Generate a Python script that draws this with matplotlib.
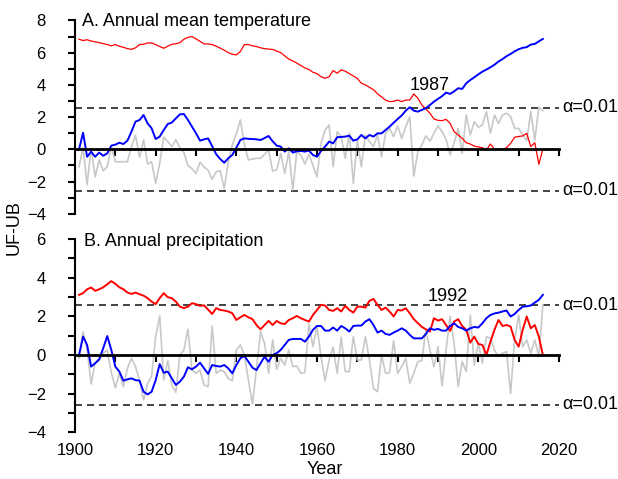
import matplotlib
matplotlib.use('Agg')
import matplotlib.pyplot as plt
import numpy as np

plt.rcParams['font.family'] = ['Liberation Sans', 'DejaVu Sans']

years = np.arange(1901, 2017)

# ---- Panel A: annual mean temperature ----
temp_uf = [
    0, 1.03, -0.46, -0.15, -0.46, -0.2, -0.4, -0.25, 0.23, 0.29,
    0.41, 0.33, 0.54, 1.1, 1.72, 1.82, 2.13, 1.61, 1.3, 0.64,
    0.79, 1.2, 1.57, 1.66, 1.92, 2.17, 2.19, 1.82, 1.41, 1.0,
    0.54, 0.62, 0.68, 0.2, -0.3, -0.6, -0.83, -0.55, -0.35, 0.1,
    0.58, 0.68, 0.65, 0.64, 0.62, 0.58, 0.7, 0.83, 0.5, 0.23,
    0.17, -0.14, 0.06, -0.2, -0.12, -0.1, -0.14, -0.08, -0.35, -0.46,
    -0.1, 0.17, 0.48, 0.37, 0.75, 0.77, 0.79, 0.85, 0.54, 0.62,
    0.89, 0.68, 0.89, 0.79, 0.99, 0.99, 1.2, 1.41, 1.65, 1.88,
    2.1, 2.4, 2.61, 2.4, 2.34, 2.45, 2.55, 2.75, 2.96, 3.13,
    3.3, 3.52, 3.44, 3.6, 3.79, 3.75, 4.1, 4.3, 4.47, 4.65,
    4.82, 4.95, 5.09, 5.25, 5.45, 5.6, 5.78, 5.92, 6.08, 6.21,
    6.3, 6.34, 6.5, 6.54, 6.7, 6.85]
temp_ub = [
    6.83, 6.75, 6.8, 6.72, 6.67, 6.62, 6.56, 6.5, 6.42, 6.5,
    6.4, 6.33, 6.25, 6.2, 6.3, 6.5, 6.52, 6.6, 6.6, 6.5,
    6.38, 6.27, 6.4, 6.52, 6.55, 6.62, 6.83, 6.95, 7.0, 6.85,
    6.7, 6.54, 6.54, 6.5, 6.4, 6.28, 6.15, 6.0, 5.9, 5.86,
    6.07, 6.5, 6.5, 6.42, 6.38, 6.3, 6.25, 6.22, 6.2, 6.1,
    6.0, 5.8, 5.6, 5.48, 5.35, 5.2, 5.05, 4.95, 4.78, 4.7,
    4.5, 4.41, 4.51, 4.89, 4.72, 4.93, 4.85, 4.7, 4.55, 4.4,
    4.1, 4.0, 3.85, 3.7, 3.45, 3.25, 3.05, 2.96, 2.98, 3.06,
    2.96, 3.06, 3.06, 3.44, 3.17, 2.75, 2.5, 2.24, 1.88, 1.8,
    1.78, 1.86, 1.61, 1.1, 0.89, 0.68, 0.41, 0.33, 0.2, 0.15,
    0.1, -0.04, 0.33, 0.0, 0.0, 0.0, 0.1, 0.37, 0.75, 0.8,
    0.83, 0.99, 0.17, 0.41, -0.93, 0.0]
temp_series = [
    -1.08, 0.1, -2.2, 0.06, -1.7, -0.66, -1.33, -1.08, 0.17, -0.77,
    -0.77, -0.77, -0.77, 0.17, 0.89, -0.5, 0.58, -0.91, -0.77, -2.11,
    -0.87, 0.75, 0.48, 0.17, 0.6, 0.1, -0.2, -1.0, -1.2, -1.5,
    -0.8, -1.1, -1.3, -1.86, -1.39, -1.33, -2.45, -0.8, 0.27, 0.95,
    1.82, 0.27, -0.66, -0.6, -0.56, -0.56, -0.3, -0.04, -1.35, -1.28,
    -0.25, -1.5, -0.14, -2.53, -0.14, -0.35, -0.91, -0.3, -1.0, -1.7,
    0.37, 1.2, 1.51, -1.08, 1.1, 0.79, -0.56, 0.99, -2.11, 0.58,
    -1.08, 0.89, 0.48, 0.17, 0.89, -0.46, 0.99, 1.3, 0.79, 1.45,
    0.68, 1.4, 2.03, -1.66, -0.15, 0.27, 0.83, 0.5, 1.0, 1.45,
    1.1, 0.62, -0.35, 0.41, 1.3, -0.25, 2.13, 0.89, 1.72, 1.37,
    1.51, 2.34, 0.99, 2.13, 1.61, 2.13, 2.24, 2.03, 1.3, 1.3,
    0.89, 0.54, 2.34, 0.58, 2.61, 2.4]

# ---- Panel B: annual precipitation ----
prec_uf = [
    0, 0.95, 0.52, -0.6, -0.43, -0.22, 0.35, 0.98, 0.26, -0.6,
    -0.86, -1.33, -1.26, -1.21, -1.3, -1.33, -1.9, -2.04, -1.9, -1.3,
    -0.47, -0.92, -0.86, -1.21, -1.55, -1.38, -1.12, -0.64, -0.74, -0.6,
    -0.4, -0.69, -0.98, -0.52, -0.57, -0.6, -0.52, -0.69, -0.95, -0.52,
    -0.17, -0.05, -0.35, -0.66, -0.78, -0.43, -0.09, -0.35, 0.0, 0.09,
    0.26, 0.52, 0.78, 0.83, 0.83, 0.83, 0.69, 0.95, 1.3, 1.5,
    1.5, 1.26, 1.26, 1.42, 1.26, 1.5, 1.38, 1.21, 1.5, 1.52,
    1.52, 1.73, 1.85, 1.55, 1.16, 1.26, 1.09, 1.04, 1.16, 1.26,
    1.38, 1.26, 1.04, 0.86, 0.86, 0.86, 1.09, 1.38, 1.3, 1.35,
    1.26, 1.26, 1.5, 1.64, 1.45, 1.38, 1.26, 1.38, 1.45, 1.42,
    1.64, 1.9, 2.07, 2.15, 2.19, 2.25, 2.3, 1.99, 2.12, 2.33,
    2.5, 2.52, 2.56, 2.71, 2.85, 3.11]
prec_ub = [
    3.11, 3.2, 3.4, 3.49, 3.32, 3.4, 3.5, 3.66, 3.82, 3.68,
    3.5, 3.4, 3.23, 3.16, 3.23, 3.14, 3.07, 2.94, 2.76, 2.63,
    2.94, 3.2, 2.99, 2.94, 2.76, 2.5, 2.42, 2.5, 2.68, 2.63,
    2.54, 2.57, 2.35, 2.12, 2.42, 2.33, 2.3, 2.25, 2.16, 1.81,
    1.95, 2.07, 1.95, 1.85, 1.55, 1.33, 1.55, 1.76, 1.55, 1.76,
    1.64, 1.6, 1.81, 1.9, 2.02, 1.9, 1.81, 1.73, 2.07, 2.33,
    2.59, 2.56, 2.33, 2.28, 2.42, 2.25, 2.54, 2.33, 2.19, 2.5,
    2.5, 2.45, 2.8, 2.9, 2.59, 2.33, 2.45, 2.25, 1.99, 2.33,
    2.3, 2.42, 2.16, 1.85, 1.65, 1.45, 1.33, 1.21, 1.9, 1.78,
    1.85, 1.55, 1.25, 1.73, 1.85, 1.5, 1.3, 0.64, 0.95, 0.57,
    0.52, 0.0, 0.69, 1.3, 1.81, 1.5, 1.55, 1.47, 0.78, 0.43,
    1.3, 1.99, 1.38, 1.55, 0.95, 0.0]
prec_series = [
    -0.17, 1.2, 0.3, -1.5, -0.4, -0.3, 0.1, 0.26, -0.9, -1.7,
    -0.95, -1.64, -0.69, -0.17, -0.6, -1.3, -2.33, -1.47, -1.09, 0.95,
    2.02, -1.3, -0.29, -1.55, -1.93, 0.0, 0.26, 1.33, -0.78, -0.95,
    -0.78, -1.55, -1.64, 1.5, -0.95, -0.78, -0.86, -1.21, -1.33, 0.26,
    0.52, 0.0, -1.3, -2.54, -0.69, 1.21, 0.6, -0.95, 0.78, -0.74,
    -0.17, -0.52, 0.26, -0.6, -0.57, -0.95, -0.91, 1.6, 0.43, 1.47,
    -0.09, -1.33, -0.26, 0.4, -0.95, 0.92, -0.86, -0.86, 0.95, -0.26,
    -0.26, 0.95, -0.26, -1.73, -1.9, 0.0, -0.95, -0.91, 0.74, -0.95,
    -0.6, -0.17, -1.47, -0.95, -0.35, -0.29, 1.3, 0.26, -0.6, 0.43,
    -1.6, 0.26, 1.99, 0.6, -1.64, -0.35, -0.86, 2.07, -0.52, 0.6,
    -0.43, 0.95, 0.86, 0.26, -0.09, 0.09, 0.17, -2.0, 0.78, 2.07,
    0.43, 0.78, 0.09, 0.78, -0.09, 2.59]

alpha_level = 2.58
titles = ['A. Annual mean temperature', 'B. Annual precipitation']
cross_labels = ['1987', '1992']

fig = plt.figure(figsize=(6.18, 4.79), dpi=100)
axA = fig.add_axes([75/618, 1-213.8/479, 484/618, 193.4/479])
axB = fig.add_axes([75/618, 1-432.3/479, 484/618, 193.3/479])

panels = [
    (axA, temp_series, temp_uf, temp_ub, (-4, 8), 0.9, (1901.8, 7.66), (1987.8, 3.7)),
    (axB, prec_series, prec_uf, prec_ub, (-4, 6), 1.4, (1902.2, 5.65), (1992.5, 2.8)),
]

for i, (ax, ser, uf, ub, ylim, ub_lw, tpos, cpos) in enumerate(panels):
    ax.plot(years, ser, color='#c8c8c8', lw=1.2, zorder=2)
    ax.plot(years, ub, color='#ff0000', lw=ub_lw, zorder=3)
    ax.plot(years, uf, color='#0000ff', lw=1.4, zorder=4)
    for lev in (alpha_level, -alpha_level):
        ax.axhline(lev, color='#222222', lw=1.2, ls=(0, (4.2, 3.0)), zorder=1)
        ax.text(2020.7, lev, 'α=0.01', ha='left', va='center', fontsize=13,
                clip_on=False)
    ax.set_xlim(1900, 2020)
    ax.set_ylim(*ylim)
    ax.spines['top'].set_visible(False)
    ax.spines['right'].set_visible(False)
    ax.spines['bottom'].set_position(('data', 0))
    ax.spines['bottom'].set_linewidth(2)
    ax.spines['bottom'].set_zorder(5)
    ax.spines['left'].set_linewidth(1.5)
    ax.set_xticks(np.arange(1910, 2021, 10))
    ax.tick_params(axis='x', direction='out', length=5, width=1.5,
                   labelbottom=False)
    ax.set_yticks(np.arange(ylim[0], ylim[1] + 1, 2))
    ax.set_yticks(np.arange(ylim[0], ylim[1] + 1, 1), minor=True)
    ax.tick_params(axis='y', which='both', direction='out', length=5,
                   width=1.5, labelsize=12, pad=16)
    ax.text(tpos[0], tpos[1], titles[i], ha='left', va='baseline', fontsize=13)
    ax.text(cpos[0], cpos[1], cross_labels[i], ha='center', va='baseline',
            fontsize=13)
    ax.set_facecolor('none')

sec = axB.secondary_xaxis('bottom')
sec.set_xticks(np.arange(1900, 2021, 20))
sec.spines['bottom'].set_visible(False)
sec.tick_params(length=0, pad=8, labelsize=12)

fig.text(325/618, 1-474/479, 'Year', ha='center', va='baseline', fontsize=13)
fig.text(14/618, 1-228/479, 'UF-UB', ha='center', va='center', rotation=90,
         fontsize=13)

fig.savefig('out.png', dpi=100)
